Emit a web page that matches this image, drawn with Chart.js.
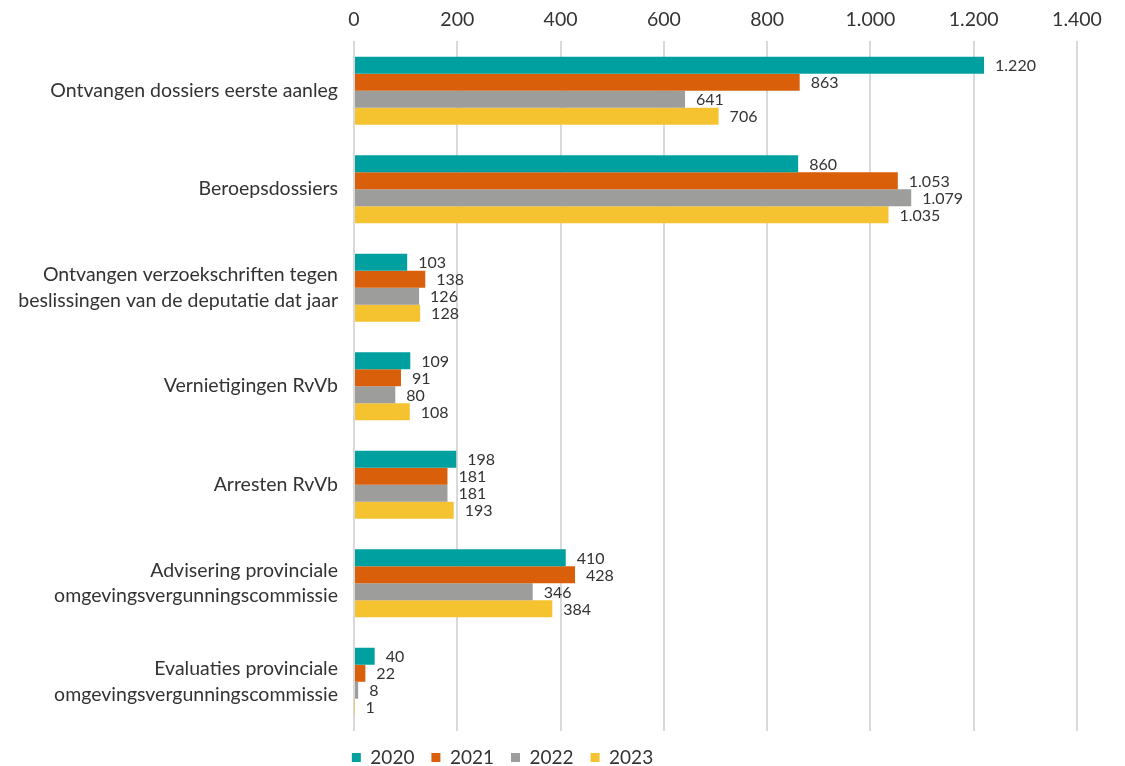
<!DOCTYPE html>
<html>
<head>
<meta charset="utf-8">
<script src="https://cdn.jsdelivr.net/npm/chart.js@4"></script>
<style>
  html, body { margin: 0; padding: 0; background: #fff; }
  #wrap { width: 1125px; height: 766px; }
</style>
</head>
<body>
<div id="wrap"><canvas id="chart"></canvas></div>
<script>
const categories = [
    "Ontvangen dossiers eerste aanleg",
    "Beroepsdossiers",
    ["Ontvangen verzoekschriften tegen", "beslissingen van de deputatie dat jaar"],
    "Vernietigingen RvVb",
    "Arresten RvVb",
    ["Advisering provinciale", "omgevingsvergunningscommissie"],
    ["Evaluaties provinciale", "omgevingsvergunningscommissie"]
];
const years = ["2020", "2021", "2022", "2023"];
const values2020 = [1220, 860, 103, 109, 198, 410, 40];
const values2021 = [863, 1053, 138, 91, 181, 428, 22];
const values2022 = [641, 1079, 126, 80, 181, 346, 8];
const values2023 = [706, 1035, 128, 108, 193, 384, 1];
const colors = ["#00A0A0", "#DA5F0A", "#9D9D9C", "#F5C230"];

function fmt(v) {
    return String(v).replace(/\B(?=(\d{3})+(?!\d))/g, ".");
}

const FONT = "Lato, 'Open Sans', sans-serif";

// value labels next to each bar
const barLabels = {
    id: "barLabels",
    afterDatasetsDraw(chart) {
        const ctx = chart.ctx;
        ctx.save();
        ctx.font = "16px " + FONT;
        ctx.fillStyle = "#333";
        ctx.textAlign = "left";
        ctx.textBaseline = "middle";
        chart.data.datasets.forEach(function (ds, i) {
            const meta = chart.getDatasetMeta(i);
            meta.data.forEach(function (bar, j) {
                ctx.fillText(fmt(ds.data[j]), bar.x + 11, bar.y + 1);
            });
        });
        ctx.restore();
    }
};

// move the legend a bit to the left, like the original
const legendShift = {
    id: "legendShift",
    afterLayout(chart) {
        chart.legend.left -= 40;
        chart.legend.right -= 40;
    }
};

const allValues = [values2020, values2021, values2022, values2023];

new Chart(document.getElementById("chart"), {
    type: "bar",
    data: {
        labels: categories,
        datasets: years.map(function (y, i) {
            return {
                label: y,
                data: allValues[i],
                backgroundColor: colors[i],
                borderWidth: 0,
                barPercentage: 1.0,
                categoryPercentage: 0.69
            };
        })
    },
    options: {
        indexAxis: "y",
        responsive: true,
        maintainAspectRatio: false,
        animation: false,
        layout: { padding: { left: 8, right: 48, top: -2, bottom: -11 } },
        scales: {
            x: {
                position: "top",
                min: 0,
                max: 1400,
                ticks: {
                    stepSize: 200,
                    color: "#333",
                    font: { family: FONT, size: 19.5 },
                    padding: 10,
                    callback: function (v) { return fmt(v); }
                },
                grid: { color: "#d9d9d9", lineWidth: 2, drawTicks: false },
                border: { display: false }
            },
            y: {
                ticks: {
                    color: "#333",
                    font: { family: FONT, size: 19.5, lineHeight: 1.33 },
                    padding: 8
                },
                grid: { display: false },
                border: { display: false },
                afterFit: function (scale) { scale.width = 346; }
            }
        },
        plugins: {
            legend: {
                position: "bottom",
                labels: {
                    color: "#333",
                    font: { family: FONT, size: 19 },
                    boxWidth: 9,
                    boxHeight: 9,
                    padding: 17
                }
            },
            tooltip: { enabled: false }
        }
    },
    plugins: [barLabels, legendShift]
});
</script>
</body>
</html>
